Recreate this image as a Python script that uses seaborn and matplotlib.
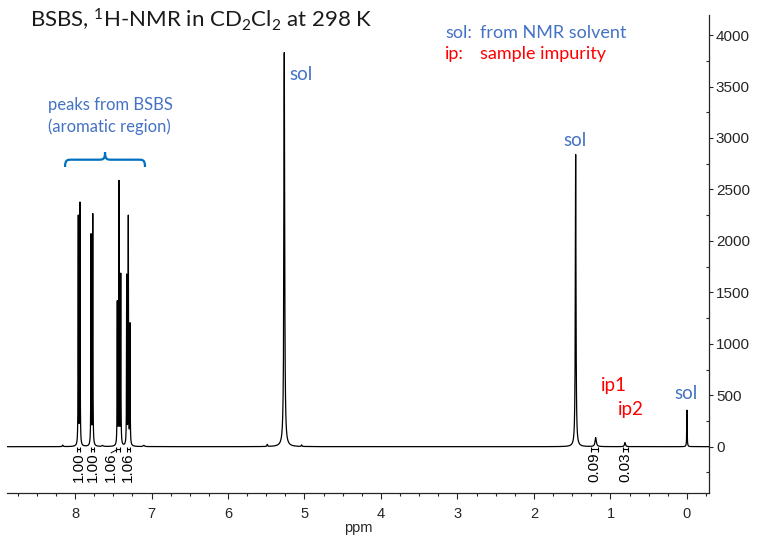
import numpy as np
import pandas as pd
import matplotlib
matplotlib.use("Agg")
import matplotlib.pyplot as plt
import seaborn as sns
from matplotlib.path import Path
from matplotlib.patches import PathPatch
from matplotlib.ticker import MultipleLocator

# ---------------- data ----------------
peak_ppm = [7.957, 7.935, 7.790, 7.768, 7.447, 7.425, 7.402, 7.324, 7.303, 7.281,
            5.264, 1.455, 1.193, 0.810, 0.000, 8.160, 5.486, 5.037, 7.640, 7.100]
peak_height = [2220, 2350, 2040, 2240, 1380, 2550, 1650, 1640, 2210, 1170,
               3830, 2840, 88, 40, 355, 15, 20, 15, 10, 12]
peak_hwhm = [0.0025, 0.0025, 0.0025, 0.0025, 0.0025, 0.0025, 0.0025, 0.0025, 0.0025, 0.0025,
             0.0060, 0.0050, 0.0100, 0.0080, 0.0030, 0.0060, 0.0050, 0.0050, 0.0100, 0.0100]

integral_ppm = [7.955, 7.770, 7.440, 7.303, 1.210, 0.804]
integral_halfwidth = [0.020, 0.020, 0.025, 0.020, 0.050, 0.035]
integral_text_ppm = [7.955, 7.770, 7.530, 7.303, 1.210, 0.804]
integral_labels = ["1.00", "1.00", "1.06", "1.06", "0.09", "0.03"]

x_ticks = [8, 7, 6, 5, 4, 3, 2, 1, 0]
y_ticks = [0, 500, 1000, 1500, 2000, 2500, 3000, 3500, 4000]

# ---------------- spectrum from peak list (Lorentzian lines) ----------------
ppm = np.linspace(-0.30, 8.90, 60001)
intensity = np.zeros_like(ppm)
for p, h, g in zip(peak_ppm, peak_height, peak_hwhm):
    intensity += h * g**2 / (g**2 + (ppm - p) ** 2)
df = pd.DataFrame({"ppm": ppm, "intensity": intensity})

# ---------------- figure ----------------
sns.set_style("ticks")
plt.rcParams["font.family"] = ["Liberation Sans", "DejaVu Sans"]
plt.rcParams["mathtext.fontset"] = "custom"
plt.rcParams["mathtext.rm"] = "Lato"
plt.rcParams["mathtext.it"] = "Lato:italic"

W, H = 758, 539
fig = plt.figure(figsize=(W / 100, H / 100), dpi=100)
ax = fig.add_axes([7 / W, 1 - 493 / H, (709 - 7) / W, (493 - 15) / H])

sns.lineplot(data=df, x="ppm", y="intensity", ax=ax, color="black",
             linewidth=0.9, estimator=None, sort=False)

ax.set_xlim(8.889, -0.288)
ax.set_ylim(-450, 4195)

ax.spines["top"].set_visible(False)
ax.spines["left"].set_visible(False)
ax.spines["right"].set_visible(True)
ax.spines["bottom"].set_visible(True)
for s in ("right", "bottom"):
    ax.spines[s].set_linewidth(0.9)
ax.yaxis.tick_right()
ax.yaxis.set_label_position("right")

ax.set_xticks(x_ticks)
ax.set_xticklabels([str(t) for t in x_ticks])
ax.set_yticks(y_ticks)
ax.set_yticklabels([str(t) for t in y_ticks])
ax.xaxis.set_minor_locator(MultipleLocator(0.25))
ax.yaxis.set_minor_locator(MultipleLocator(250))
ax.tick_params(axis="x", which="major", direction="out", length=4, width=0.8,
               labelsize=10.5, pad=6)
ax.tick_params(axis="x", which="minor", direction="out", length=2.5, width=0.8)
ax.tick_params(axis="y", which="major", direction="out", length=3, width=0.8,
               labelsize=11, pad=2, right=True, left=False)
ax.tick_params(axis="y", which="minor", direction="in", length=2.5, width=0.8,
               right=True, left=False)
ax.set_xlabel("ppm", fontsize=10.5, labelpad=0)
ax.set_ylabel("")

# integrals
ax.errorbar(integral_ppm, [-25] * len(integral_ppm), xerr=integral_halfwidth,
            fmt="none", ecolor="black", elinewidth=0.8, capsize=1.8, capthick=0.8)
for xb, xt, lab in zip(integral_ppm, integral_text_ppm, integral_labels):
    ax.text(xt, -52, lab, rotation=90, ha="center", va="top", fontsize=11,
            color="black")
    if abs(xt - xb) > 0.02:
        ax.plot([xb, xt], [-25, -60], color="black", lw=0.7)

# annotations
blue = "#4472C4"
red = "#FF0000"
afont = ["Lato", "DejaVu Sans"]
ax.text(5.199, 3612, "sol", color=blue, fontsize=13.5, ha="left", va="center", family=afont)
ax.text(1.464, 2974, "sol", color=blue, fontsize=13.5, ha="center", va="center", family=afont)
ax.text(0.957, 590, "ip1", color=red, fontsize=13.5, ha="center", va="center", family=afont)
ax.text(0.732, 363, "ip2", color=red, fontsize=13.5, ha="center", va="center", family=afont)
ax.text(0.013, 519, "sol", color=blue, fontsize=13.5, ha="center", va="center", family=afont)
ax.text(8.353, 3214, "peaks from BSBS\n(aromatic region)", color=blue, fontsize=12,
        ha="left", va="center", family=afont, linespacing=1.4)

# curly brace
bx0, bx1 = 8.13, 7.085
by0, by1 = 2718, 2860
verts_u = [(0, 0), (0, 0.5), (0.03, 0.5), (0.08, 0.5), (0.42, 0.5),
           (0.47, 0.5), (0.5, 0.5), (0.5, 1.0),
           (0.5, 0.5), (0.53, 0.5), (0.58, 0.5), (0.92, 0.5),
           (0.97, 0.5), (1.0, 0.5), (1.0, 0.0)]
codes = [Path.MOVETO, Path.CURVE4, Path.CURVE4, Path.CURVE4, Path.LINETO,
         Path.CURVE4, Path.CURVE4, Path.CURVE4,
         Path.CURVE4, Path.CURVE4, Path.CURVE4, Path.LINETO,
         Path.CURVE4, Path.CURVE4, Path.CURVE4]
verts = [(bx0 + u * (bx1 - bx0), by0 + v * (by1 - by0)) for u, v in verts_u]
ax.add_patch(PathPatch(Path(verts, codes), facecolor="none", edgecolor="#0070C0", lw=1.6))

# title and legend-like notes
fig.text(30 / W, 1 - 20 / H, r"BSBS, $^{1}$H-NMR in CD$_{2}$Cl$_{2}$ at 298 K",
         fontsize=16, ha="left", va="center", family=afont, color="#1a1a1a")
fig.text(445 / W, 1 - 33 / H, "sol:", color=blue, fontsize=13, ha="left", va="center", family=afont)
fig.text(480 / W, 1 - 33 / H, "from NMR solvent", color=blue, fontsize=13, ha="left", va="center", family=afont)
fig.text(445 / W, 1 - 54 / H, "ip:", color=red, fontsize=13, ha="left", va="center", family=afont)
fig.text(480 / W, 1 - 54 / H, "sample impurity", color=red, fontsize=13, ha="left", va="center", family=afont)

fig.savefig("out.png", dpi=100)
